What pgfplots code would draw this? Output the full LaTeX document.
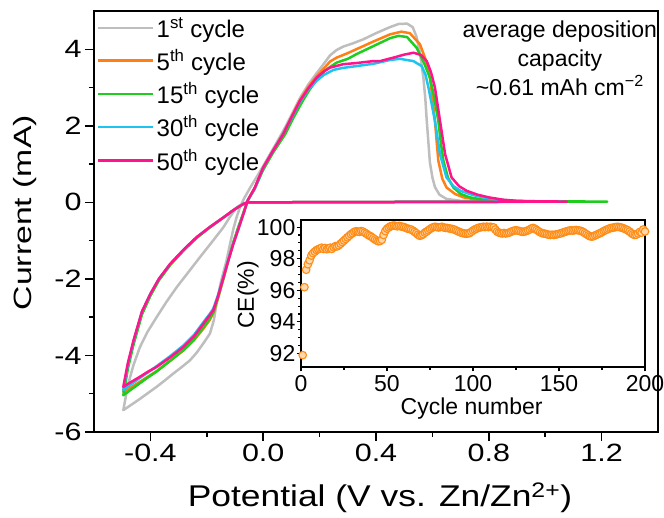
\documentclass[border=0pt]{standalone}
\usepackage{fontspec}
\setmainfont{Liberation Sans}
\newfontfamily\tickf[FakeStretch=1.22]{Liberation Sans}
\newfontfamily\xlabf[FakeStretch=1.18]{Liberation Sans}
\newfontfamily\ylabf[FakeStretch=1.35]{Liberation Sans}
\usepackage{pgfplots}
\pgfplotsset{compat=1.18}
\definecolor{cgray}{RGB}{190,190,190}
\definecolor{corange}{RGB}{255,127,20}
\definecolor{cgreen}{RGB}{30,205,30}
\definecolor{ccyan}{RGB}{30,195,240}
\definecolor{cpink}{RGB}{255,20,140}
\definecolor{cmark}{RGB}{255,140,20}
\begin{document}
\begin{tikzpicture}[x=1pt,y=1pt]
\path[use as bounding box] (0,0) rectangle (664,518);
\begin{axis}[
  at={(94pt,86pt)}, anchor=south west,
  scale only axis, width=564pt, height=421pt,
  xmin=-0.6, xmax=1.4, ymin=-6, ymax=5,
  xtick={-0.4,0,0.4,0.8,1.2}, minor xtick={-0.2,0.2,0.6,1.0},
  ytick={-6,-4,-2,0,2,4}, minor ytick={-5,-3,-1,1,3},
  tick align=outside, xtick pos=bottom, ytick pos=left,
  major tick length=9pt, minor tick length=5pt,
  tick style={black, line width=1.5pt},
  axis line style={line width=1.6pt},
  /pgf/number format/assume math mode=true,
  tick label style={font=\tickf\fontsize{25}{25}\selectfont},
  xticklabel style={/pgf/number format/.cd, fixed, fixed zerofill, precision=1},
  yticklabel style={/pgf/number format/.cd, fixed, precision=0},
  xlabel={Potential (V vs. Zn/Zn\textsuperscript{2+})},
  ylabel={Current (mA)},
  xlabel style={font=\xlabf\fontsize{30}{30}\selectfont, at={(axis description cs:0.507,-0.178)}, anchor=base},
  ylabel style={font=\ylabf\fontsize{25}{25}\selectfont, at={(axis description cs:-0.1223,0.521)}, anchor=center},
  legend image code/.code={\draw[#1] (0pt,0pt) -- (55pt,0pt);},
  legend style={at={(axis description cs:0,1)}, anchor=north west, yshift=-2pt, draw=none, fill=none,
    font=\fontsize{24}{24}\selectfont, row sep=6.6pt, inner xsep=3pt, inner ysep=2pt},
  legend cell align=left,
  every axis plot/.append style={line width=2.5pt, line join=round},
]
\addplot[cgray] coordinates {
(-0.055,0.00) (-0.075,-0.04) (-0.094,-0.13) (-0.118,-0.38) (-0.141,-0.65) (-0.18,-1.02) (-0.224,-1.43) (-0.265,-1.82) (-0.307,-2.22) (-0.343,-2.60) (-0.378,-3.00) (-0.41,-3.38) (-0.437,-3.78) (-0.46,-4.25) (-0.48,-4.78) (-0.496,-5.43)
(-0.47,-5.30) (-0.44,-5.15) (-0.41,-4.99) (-0.378,-4.82) (-0.35,-4.66) (-0.32,-4.48) (-0.29,-4.31) (-0.26,-4.13) (-0.235,-3.92) (-0.21,-3.66) (-0.189,-3.43) (-0.175,-3.08) (-0.165,-2.62) (-0.15,-2.08) (-0.13,-1.52) (-0.118,-1.10) (-0.106,-0.70) (-0.094,-0.38) (-0.082,-0.12) (-0.068,0.10)
(-0.045,0.40) (-0.02,0.70) (0.0,0.95) (0.035,1.40) (0.07,1.85) (0.10,2.28) (0.13,2.72) (0.16,3.08) (0.19,3.38) (0.215,3.62) (0.237,3.84) (0.26,3.98) (0.284,4.07) (0.32,4.16) (0.355,4.26) (0.40,4.42) (0.45,4.58) (0.48,4.66) (0.51,4.67) (0.53,4.58) (0.544,4.32) (0.556,3.90) (0.568,3.26) (0.575,2.70) (0.58,2.13) (0.586,1.55) (0.591,1.05) (0.60,0.65) (0.609,0.40) (0.625,0.20) (0.65,0.09) (0.70,0.04) (0.80,0.02) (1.06,0.02) (0.50,0.01) (-0.055,0.00)
};
\addlegendentry{1\textsuperscript{st} cycle}
\addplot[corange] coordinates {
(-0.055,0.00) (-0.07,-0.04) (-0.105,-0.20) (-0.14,-0.39) (-0.19,-0.65) (-0.236,-0.92) (-0.28,-1.23) (-0.33,-1.63) (-0.37,-2.02) (-0.40,-2.42) (-0.43,-2.90) (-0.46,-3.66) (-0.48,-4.28) (-0.496,-4.95)
(-0.47,-4.84) (-0.44,-4.70) (-0.41,-4.56) (-0.378,-4.41) (-0.33,-4.14) (-0.283,-3.87) (-0.245,-3.60) (-0.212,-3.30) (-0.19,-3.08) (-0.175,-2.86) (-0.16,-2.50) (-0.141,-2.00) (-0.125,-1.56) (-0.106,-1.06) (-0.088,-0.66) (-0.07,-0.28) (-0.055,0.05)
(-0.03,0.38) (0.0,0.90) (0.035,1.35) (0.07,1.80) (0.10,2.22) (0.13,2.66) (0.16,3.02) (0.19,3.30) (0.215,3.50) (0.237,3.68) (0.26,3.78) (0.30,3.90) (0.33,4.00) (0.39,4.20) (0.45,4.39) (0.49,4.46) (0.52,4.42) (0.556,4.13) (0.575,3.75) (0.591,3.26) (0.60,2.75) (0.609,2.13) (0.615,1.60) (0.621,1.09) (0.635,0.62) (0.65,0.39) (0.68,0.22) (0.71,0.13) (0.76,0.07) (0.80,0.04) (0.90,0.03) (1.06,0.02) (0.50,0.01) (-0.055,0.00)
};
\addlegendentry{5\textsuperscript{th} cycle}
\addplot[cgreen] coordinates {
(-0.055,0.00) (-0.07,-0.04) (-0.105,-0.20) (-0.14,-0.39) (-0.19,-0.66) (-0.236,-0.93) (-0.28,-1.24) (-0.33,-1.64) (-0.37,-2.04) (-0.40,-2.44) (-0.43,-2.93) (-0.46,-3.72) (-0.48,-4.35) (-0.496,-5.04)
(-0.47,-4.90) (-0.44,-4.74) (-0.41,-4.58) (-0.378,-4.42) (-0.33,-4.14) (-0.283,-3.86) (-0.245,-3.58) (-0.212,-3.26) (-0.19,-3.04) (-0.175,-2.84) (-0.16,-2.48) (-0.141,-1.98) (-0.125,-1.54) (-0.106,-1.05) (-0.088,-0.64) (-0.07,-0.27) (-0.055,0.05)
(-0.03,0.36) (0.0,0.85) (0.035,1.30) (0.078,1.78) (0.11,2.25) (0.14,2.65) (0.165,2.95) (0.19,3.20) (0.22,3.45) (0.26,3.65) (0.30,3.75) (0.33,3.87) (0.39,4.08) (0.45,4.29) (0.48,4.35) (0.51,4.32) (0.544,4.04) (0.57,3.65) (0.591,3.26) (0.605,2.80) (0.621,2.13) (0.63,1.55) (0.639,1.09) (0.655,0.65) (0.674,0.39) (0.70,0.22) (0.733,0.13) (0.78,0.07) (0.82,0.04) (0.90,0.03) (1.22,0.02) (0.50,0.01) (-0.055,0.00)
};
\addlegendentry{15\textsuperscript{th} cycle}
\addplot[ccyan] coordinates {
(-0.055,0.00) (-0.07,-0.04) (-0.105,-0.20) (-0.14,-0.39) (-0.19,-0.65) (-0.236,-0.91) (-0.28,-1.22) (-0.33,-1.61) (-0.37,-2.00) (-0.40,-2.39) (-0.43,-2.86) (-0.46,-3.63) (-0.48,-4.24) (-0.496,-4.90)
(-0.47,-4.76) (-0.44,-4.60) (-0.41,-4.45) (-0.378,-4.28) (-0.33,-4.02) (-0.283,-3.74) (-0.245,-3.46) (-0.212,-3.13) (-0.19,-2.92) (-0.177,-2.78) (-0.16,-2.42) (-0.141,-1.94) (-0.125,-1.53) (-0.106,-1.08) (-0.088,-0.70) (-0.07,-0.30) (-0.055,0.05)
(-0.03,0.35) (0.0,0.90) (0.035,1.35) (0.07,1.78) (0.10,2.20) (0.13,2.62) (0.16,2.95) (0.19,3.18) (0.215,3.33) (0.249,3.46) (0.28,3.51) (0.33,3.56) (0.39,3.62) (0.45,3.72) (0.485,3.75) (0.533,3.69) (0.562,3.56) (0.575,3.35) (0.586,3.00) (0.598,2.55) (0.609,2.13) (0.627,1.26) (0.65,0.65) (0.675,0.42) (0.70,0.30) (0.74,0.20) (0.78,0.13) (0.85,0.06) (0.90,0.03) (1.06,0.02) (0.50,0.01) (-0.055,0.00)
};
\addlegendentry{30\textsuperscript{th} cycle}
\addplot[cpink] coordinates {
(-0.055,0.00) (-0.07,-0.04) (-0.105,-0.20) (-0.14,-0.39) (-0.19,-0.65) (-0.236,-0.91) (-0.28,-1.22) (-0.33,-1.61) (-0.37,-2.00) (-0.40,-2.39) (-0.43,-2.85) (-0.46,-3.61) (-0.48,-4.20) (-0.496,-4.82)
(-0.47,-4.70) (-0.44,-4.57) (-0.41,-4.43) (-0.378,-4.30) (-0.33,-4.05) (-0.283,-3.78) (-0.245,-3.50) (-0.212,-3.17) (-0.19,-2.95) (-0.177,-2.82) (-0.16,-2.45) (-0.141,-1.96) (-0.125,-1.55) (-0.106,-1.09) (-0.088,-0.70) (-0.07,-0.30) (-0.055,0.05)
(-0.03,0.38) (0.0,0.91) (0.035,1.35) (0.071,1.78) (0.10,2.22) (0.13,2.65) (0.16,2.98) (0.19,3.26) (0.215,3.42) (0.237,3.52) (0.284,3.61) (0.33,3.64) (0.39,3.69) (0.414,3.69) (0.461,3.78) (0.50,3.86) (0.533,3.91) (0.56,3.85) (0.58,3.69) (0.595,3.40) (0.609,3.00) (0.627,2.13) (0.645,1.26) (0.668,0.65) (0.695,0.42) (0.722,0.30) (0.76,0.20) (0.80,0.13) (0.85,0.07) (0.90,0.04) (0.95,0.03) (1.077,0.02) (0.50,0.01) (-0.055,0.00)
};
\addlegendentry{50\textsuperscript{th} cycle}
\node[align=center, anchor=north, inner sep=0pt, font=\fontsize{23}{29}\selectfont] at (axis description cs:0.826,0.977)
  {average deposition\\capacity\\\textasciitilde0.61 mAh cm\textsuperscript{−2}};
\end{axis}
\begin{axis}[
  at={(301pt,151pt)}, anchor=south west,
  scale only axis, width=344pt, height=147pt,
  xmin=0, xmax=200, ymin=91.15, ymax=100.45,
  xtick={0,50,100,150,200}, minor xtick={25,75,125,175},
  ytick={92,94,96,98,100}, minor y tick num=3,
  tick align=outside, xtick pos=bottom, ytick pos=left,
  major tick length=4.5pt, minor tick length=3pt,
  tick style={black, line width=1.1pt},
  axis line style={line width=1.2pt},
  axis background/.style={fill=white},
  /pgf/number format/assume math mode=true,
  tick label style={font=\fontsize{23}{23}\selectfont},
  yticklabel style={inner xsep=1pt},
  xlabel={Cycle number}, ylabel={CE(\%)},
  xlabel style={font=\fontsize{23}{23}\selectfont, at={(axis description cs:0.496,-0.32)}, anchor=base},
  ylabel style={font=\fontsize{23}{23}\selectfont, at={(axis description cs:-0.154,0.49)}, anchor=center},
]
\addplot[only marks, mark=*, mark size=3.8pt, mark options={draw=cmark, fill=cmark!35!white, line width=1.1pt}] table[row sep=\\] {
x y\\
1 91.90\\ 2 96.20\\ 3 97.30\\ 4 97.65\\ 5 97.90\\ 6 98.20\\ 7 98.35\\ 8 98.45\\ 9 98.55\\ 10 98.60\\
11 98.65\\ 12 98.70\\ 13 98.62\\ 14 98.68\\ 15 98.60\\ 16 98.65\\ 17 98.70\\ 18 98.62\\ 19 98.72\\ 20 98.80\\
21 98.78\\ 22 98.85\\ 23 98.95\\ 24 99.05\\ 25 99.15\\ 26 99.25\\ 27 99.35\\ 28 99.45\\ 29 99.55\\ 30 99.62\\
31 99.70\\ 32 99.74\\ 33 99.72\\ 34 99.70\\ 35 99.75\\ 36 99.72\\ 37 99.65\\ 38 99.58\\ 39 99.50\\ 40 99.45\\
41 99.38\\ 42 99.30\\ 43 99.22\\ 44 99.15\\ 45 99.10\\ 46 99.12\\ 47 99.20\\ 48 99.50\\ 49 99.75\\ 50 99.90\\
51 99.98\\ 52 100.05\\ 53 100.08\\ 54 100.10\\ 55 100.08\\ 56 100.05\\ 57 100.08\\ 58 100.05\\ 59 100.02\\ 60 100.00\\
61 99.95\\ 62 99.90\\ 63 99.88\\ 64 99.85\\ 65 99.78\\ 66 99.70\\ 67 99.62\\ 68 99.52\\ 69 99.45\\ 70 99.48\\
71 99.55\\ 72 99.65\\ 73 99.72\\ 74 99.80\\ 75 99.88\\ 76 99.95\\ 77 100.00\\ 78 100.02\\ 79 100.00\\ 80 99.98\\
81 100.00\\ 82 100.02\\ 83 99.98\\ 84 99.95\\ 85 99.95\\ 86 99.92\\ 87 99.90\\ 88 99.88\\ 89 99.85\\ 90 99.80\\
91 99.75\\ 92 99.70\\ 93 99.65\\ 94 99.62\\ 95 99.60\\ 96 99.58\\ 97 99.60\\ 98 99.62\\ 99 99.70\\ 100 99.78\\
101 99.85\\ 102 99.90\\ 103 99.95\\ 104 99.98\\ 105 100.00\\ 106 100.02\\ 107 100.00\\ 108 100.03\\ 109 100.00\\ 110 100.02\\
111 100.00\\ 112 99.98\\ 113 99.85\\ 114 99.72\\ 115 99.65\\ 116 99.62\\ 117 99.60\\ 118 99.63\\ 119 99.60\\ 120 99.62\\
121 99.65\\ 122 99.70\\ 123 99.75\\ 124 99.78\\ 125 99.80\\ 126 99.78\\ 127 99.75\\ 128 99.72\\ 129 99.70\\ 130 99.72\\
131 99.75\\ 132 99.80\\ 133 99.85\\ 134 99.92\\ 135 99.95\\ 136 99.90\\ 137 99.82\\ 138 99.75\\ 139 99.68\\ 140 99.62\\
141 99.60\\ 142 99.58\\ 143 99.55\\ 144 99.52\\ 145 99.50\\ 146 99.52\\ 147 99.50\\ 148 99.53\\ 149 99.55\\ 150 99.58\\
151 99.60\\ 152 99.65\\ 153 99.68\\ 154 99.72\\ 155 99.75\\ 156 99.78\\ 157 99.80\\ 158 99.78\\ 159 99.80\\ 160 99.82\\
161 99.80\\ 162 99.78\\ 163 99.75\\ 164 99.70\\ 165 99.62\\ 166 99.55\\ 167 99.48\\ 168 99.42\\ 169 99.40\\ 170 99.42\\
171 99.48\\ 172 99.52\\ 173 99.58\\ 174 99.62\\ 175 99.68\\ 176 99.75\\ 177 99.80\\ 178 99.85\\ 179 99.90\\ 180 99.94\\
181 99.96\\ 182 99.98\\ 183 100.00\\ 184 100.02\\ 185 100.00\\ 186 99.98\\ 187 99.95\\ 188 99.90\\ 189 99.85\\ 190 99.80\\
191 99.72\\ 192 99.62\\ 193 99.55\\ 194 99.50\\ 195 99.52\\ 196 99.60\\ 197 99.70\\ 198 99.65\\ 199 99.85\\ 200 99.72\\
};
\end{axis}
\end{tikzpicture}
\end{document}
